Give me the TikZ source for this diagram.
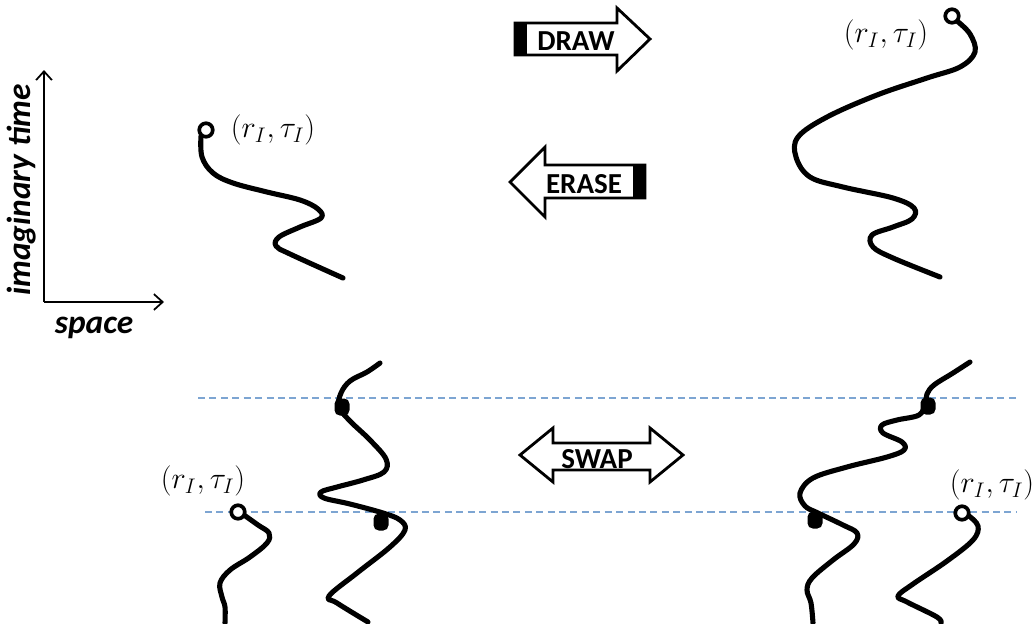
\documentclass[tikz,border=0pt]{standalone}
\usepackage{fontspec}
\usetikzlibrary{arrows.meta}
\newfontfamily\carlitofont{Carlito}
\definecolor{dashblue}{RGB}{125,165,210}
\tikzset{
  wline/.style={line width=2.9pt, line cap=round, line join=round},
  endring/.style={circle, draw, fill=white, line width=2.1pt, inner sep=0pt, minimum size=0.27cm},
  blob/.style={rectangle, rounded corners=3pt, fill=black, inner sep=0pt, minimum width=0.3cm, minimum height=0.34cm},
  bigarrow/.style={draw, fill=white, line width=1.6pt, line join=miter},
  arrowtxt/.style={font=\carlitofont\fontsize{16.5}{18}\selectfont\bfseries, inner sep=0pt},
  axislabel/.style={font=\carlitofont\fontsize{19}{22}\selectfont\bfseries\itshape, inner sep=0pt},
  poslabel/.style={font=\fontsize{17}{19}\selectfont, inner sep=0pt},
  tline/.style={dashblue, line width=0.6pt, dash pattern=on 4pt off 2.5pt}
}
\begin{document}
\begin{tikzpicture}[x=0.02cm,y=-0.02cm]
\useasboundingbox (0,0) rectangle (1034,623);
% axes
\coordinate (o) at (44,302);
\coordinate (ytop) at (44,70);
\coordinate (xend) at (164,302);
\draw[line width=1pt,-{Straight Barb[length=5pt,width=9pt]}] (o) -- (ytop);
\draw[line width=1pt,-{Straight Barb[length=5pt,width=9pt]}] (o) -- (xend);
\node[axislabel, rotate=90] (ilab) at (22,190) {imaginary time};
\node[axislabel] (slab) at (94,328) {space};

% top-left path
\draw[wline] plot[smooth, tension=0.6] coordinates {(201,136) (202,157) (213,173) (233,183) (267,192) (300,200) (318,209) (321,218) (300,227) (279,237) (276,246) (290,254) (343,278)};
\node[endring] (tl) at (206,130) {};
\node[poslabel] (tllab) at (273,130) {$(r_I,\tau_I)$};

% top-right path
\draw[wline] plot[smooth, tension=0.6] coordinates {(957,21) (970,34) (975,52) (960,67) (927,78) (877,95) (827,117) (798,137) (796,157) (810,177) (843,187) (893,198) (914,208) (912,219) (893,227) (872,235) (873,247) (893,258) (940,277)};
\node[endring] (tr) at (952,16) {};
\node[poslabel] (trlab) at (886,35) {$(r_I,\tau_I)$};

% DRAW arrow
\draw[bigarrow] (515,23) -- (617,23) -- (617,8) -- (650,39) -- (617,71) -- (617,55) -- (515,55) -- cycle;
\fill (515,23) rectangle (527,55);
\node[arrowtxt] (draw) at (576,41) {DRAW};

% ERASE arrow
\draw[bigarrow] (645,165) -- (545,165) -- (545,147) -- (510,182) -- (545,217) -- (545,198) -- (645,198) -- cycle;
\fill (633,165) rectangle (645,198);
\node[arrowtxt] (erase) at (584,184) {ERASE};

% SWAP arrow
\draw[bigarrow] (520,455) -- (553,428) -- (553,443) -- (650,443) -- (650,428) -- (683,455) -- (650,482) -- (650,470) -- (553,470) -- (553,482) -- cycle;
\node[arrowtxt] (swap) at (597,459) {SWAP};

% dashed time slices
\coordinate (d1a) at (198,398);
\coordinate (d1b) at (1017,398);
\coordinate (d2a) at (205,512);
\coordinate (d2b) at (1017,512);
\draw[tline] (d1a) -- (d1b);
\draw[tline] (d2a) -- (d2b);

% bottom-left short path
\draw[wline] plot[smooth, tension=0.6] coordinates {(244,515) (258,525) (269,533) (267,543) (250,557) (230,570) (220,583) (222,597) (225,607) (225,623)};
\node[endring] (bl) at (238,512) {};
\node[poslabel] (bllab) at (203,481) {$(r_I,\tau_I)$};

% bottom-left long path
\draw[wline] plot[smooth, tension=0.6] coordinates {(380,363) (367,372) (350,381) (341,393) (339,407) (350,421) (370,440) (386,459) (384,472) (363,480) (337,487) (321,492) (324,498) (350,504) (383,513) (400,520) (405,530) (390,547) (357,573) (329,596) (337,603) (368,622)};
\node[blob] (b1) at (342,407) {};
\node[blob] (b2) at (381,522) {};

% bottom-right long path
\draw[wline] plot[smooth, tension=0.6] coordinates {(970,362) (953,373) (934,385) (927,394) (925,404) (919,415) (897,420) (882,425) (883,433) (902,442) (904,450) (887,457) (847,467) (813,478) (800,493) (805,506) (818,513) (843,525) (857,533) (854,544) (833,560) (812,578) (807,590) (811,603) (813,623)};
\node[blob] (b3) at (928,406) {};
\node[blob] (b4) at (815,520) {};

% bottom-right short path
\draw[wline] plot[smooth, tension=0.6] coordinates {(969,516) (978,526) (973,540) (947,561) (913,584) (898,596) (907,602) (937,617) (941,623)};
\node[endring] (br) at (962,513) {};
\node[poslabel] (brlab) at (992,485) {$(r_I,\tau_I)$};
\end{tikzpicture}
\end{document}
